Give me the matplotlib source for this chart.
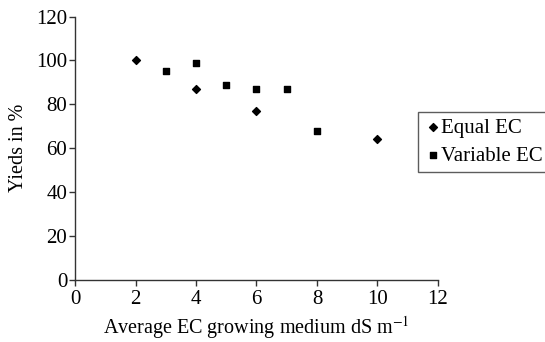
import matplotlib
matplotlib.use('Agg')
import matplotlib.pyplot as plt

# data
equal_x = [2, 4, 6, 10]
equal_y = [100, 87, 77, 64]
variable_x = [3, 4, 5, 6, 7, 8]
variable_y = [95, 99, 89, 87, 87, 68]

x_ticks = [0, 2, 4, 6, 8, 10, 12]
y_ticks = [0, 20, 40, 60, 80, 100, 120]

plt.rcParams['font.family'] = ['Liberation Serif', 'DejaVu Serif']
plt.rcParams['mathtext.fontset'] = 'stix'

fig = plt.figure(figsize=(5.45, 3.42), dpi=100)
ax = fig.add_axes([75 / 545, 1 - 280 / 342, (438 - 75) / 545, (280 - 16.5) / 342])

ax.scatter(equal_x, equal_y, marker='D', s=16, color='black', label='Equal EC', zorder=3)
ax.scatter(variable_x, variable_y, marker='s', s=24, color='black', label='Variable EC', zorder=3)

ax.set_xlim(0, 12)
ax.set_ylim(0, 120)
ax.set_xticks(x_ticks)
ax.set_yticks(y_ticks)
ax.spines['top'].set_visible(False)
ax.spines['right'].set_visible(False)
for s in ['left', 'bottom']:
    ax.spines[s].set_color('#333333')
    ax.spines[s].set_linewidth(1.0)
ax.tick_params(direction='out', length=4, width=1.0, color='#333333', labelsize=15)
ax.tick_params(axis='x', pad=3)
ax.tick_params(axis='y', pad=1.5)

ax.set_xlabel('Average EC growing medium dS m$^{-1}$', fontsize=14.5, labelpad=4)
ax.set_ylabel('Yieds in %', fontsize=14.5, labelpad=6)

leg = ax.legend(loc='upper left', bbox_to_anchor=(418 / 545, 1 - 112 / 342), bbox_transform=fig.transFigure,
                frameon=True, fancybox=False, fontsize=15, handletextpad=0.0, handlelength=0.8,
                borderpad=0.3, labelspacing=0.4, borderaxespad=0)
leg.get_frame().set_edgecolor('#333333')
leg.get_frame().set_linewidth(1.0)

fig.savefig('out.png', dpi=100)
